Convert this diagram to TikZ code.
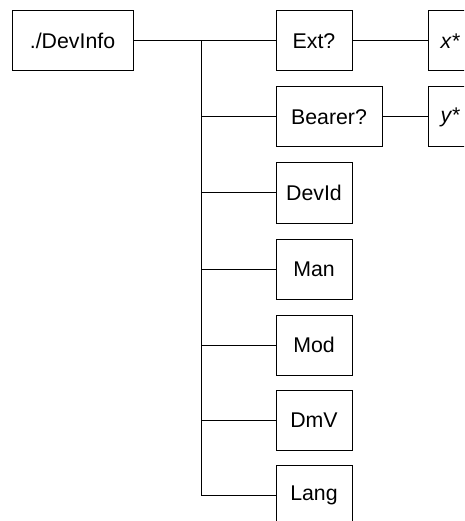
\documentclass[tikz,border=0pt]{standalone}
\usepackage{fontspec}
\setmainfont{Liberation Sans}
\usepackage{tikz}
\usetikzlibrary{positioning}
\tikzset{>=latex}
\tikzstyle{leaf} = [rectangle, draw=black, line width=1pt, minimum height=60pt, minimum width=76pt, inner sep=0pt, font=\fontsize{21.3}{25}\selectfont]
\tikzstyle{link} = [-, draw=black, line width=1pt]

\begin{document}
\begin{tikzpicture}[x=1pt, y=-1pt]
\clip (0,0) rectangle (464,521);
\node [leaf, minimum width=121pt] (D) at (72.5, 41) {./DevInfo};
\node [leaf] (E) at (314, 41) {Ext?};
\node [leaf, minimum width=106pt] (B) at (329, 117) {Bearer?};
\node [leaf] (I) at (314, 193) {DevId};
\node [leaf] (M) at (314, 269) {Man};
\node [leaf] (O) at (314, 345) {Mod};
\node [leaf] (V) at (314, 420) {DmV};
\node [leaf] (L) at (314, 495) {Lang};
\node [leaf, anchor=west, minimum width=44pt] (X) at (428, 41) {\textit{x}*};
\node [leaf, anchor=west, minimum width=44pt] (Y) at (428, 117) {\textit{y}*};
\coordinate (J) at (201, 41);
\draw [link] (D) -- (E);
\draw [link] (E) -- (X);
\draw [link] (B) -- (Y);
\draw [link] (J) |- (L.west);
\draw [link] (J) |- (B.west);
\draw [link] (J) |- (I.west);
\draw [link] (J) |- (M.west);
\draw [link] (J) |- (O.west);
\draw [link] (J) |- (V.west);
\end{tikzpicture}
\end{document}
